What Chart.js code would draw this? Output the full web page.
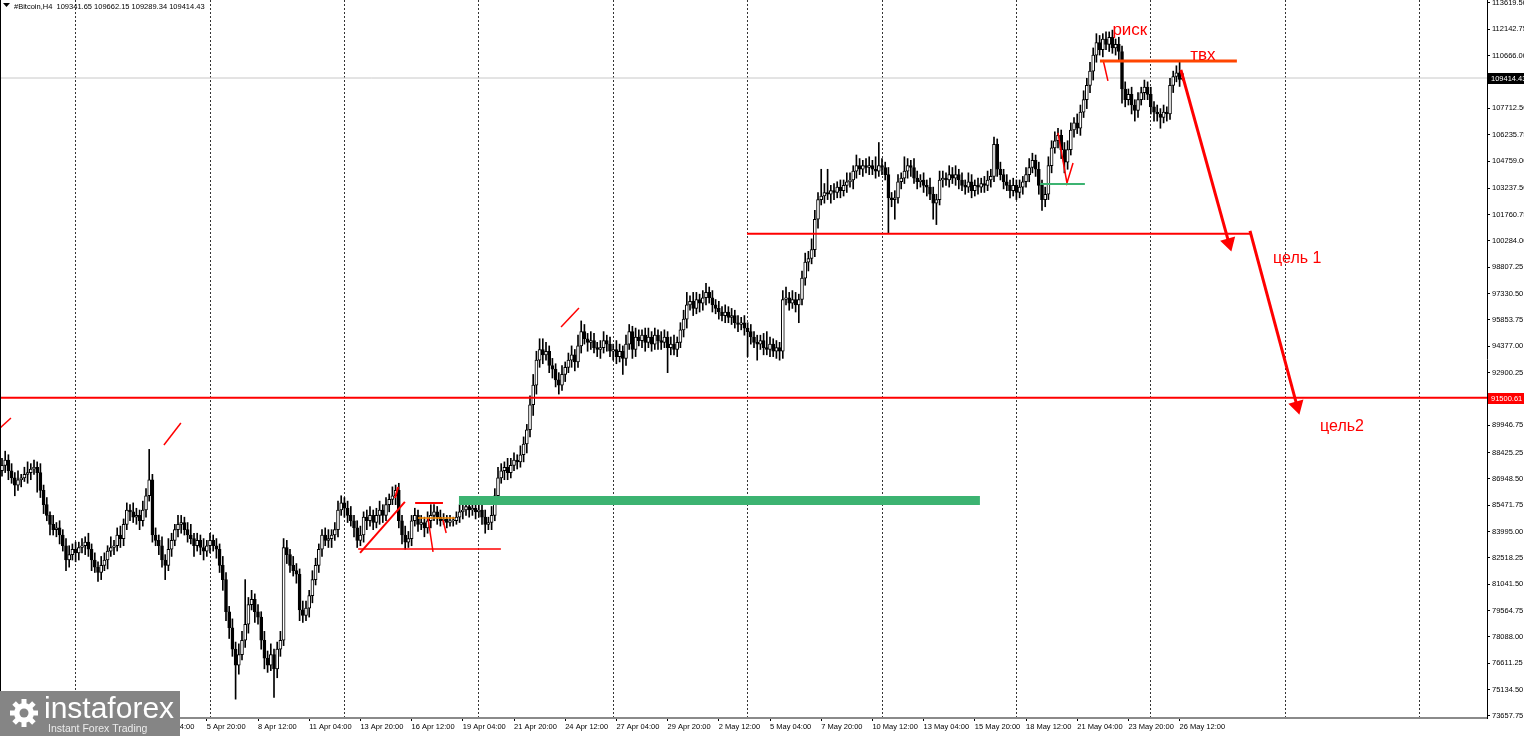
<!DOCTYPE html>
<html lang="ru">
<head>
    <meta charset="UTF-8">
    <title>#Bitcoin,H4</title>
    <script src="https://cdn.jsdelivr.net/npm/chart.js"></script>
    <style>
        html, body { margin: 0; padding: 0; background: #fff; overflow: hidden; }
        canvas { display: block; }
    </style>
</head>
<body>
    <canvas id="chart" width="1524" height="736"></canvas>

    <script>
        // H4 candles, prices in thousands of USD, open = previous close
        const firstOpen = 87.4;
        const closes = [
            87.7,88.0,87.4,87.0,86.6,86.9,87.0,87.2,87.3,87.5,87.6,87.3,86.3,85.5,84.9,84.4,84.1,84.2,83.8,83.2,82.4,82.7,83.0,82.8,
            83.1,83.2,83.4,83.0,82.4,82.0,81.7,82.1,82.4,82.9,83.1,83.2,83.8,83.6,84.4,85.2,85.1,84.8,84.9,84.6,85.2,86.0,86.9,
            83.8,83.5,83.2,82.4,82.1,83.0,83.5,84.1,84.4,84.5,84.1,83.8,83.6,83.2,83.5,83.1,82.9,83.2,83.5,83.2,83.0,82.1,81.3,
            79.5,78.6,77.4,76.5,77.1,77.9,78.8,79.9,80.2,79.5,79.2,77.9,76.9,76.5,77.1,76.3,77.4,77.9,83.1,82.7,82.1,81.8,81.6,79.6,79.3,79.7,80.4,81.3,82.1,83.0,
            83.8,83.5,83.6,83.8,84.1,85.2,85.6,85.3,84.9,84.6,84.2,83.5,83.8,84.8,84.6,84.9,84.5,84.9,85.2,84.9,85.5,85.8,86.0,86.3,84.6,83.8,83.4,83.6,84.6,84.9,
            84.4,84.5,84.2,84.6,84.9,85.1,84.8,84.6,84.7,84.5,84.6,84.6,84.8,85.1,85.2,85.4,85.2,85.3,85.1,85.2,84.8,84.4,84.5,84.9,86.0,87.0,87.4,87.6,87.3,87.7,
            88.0,87.9,88.3,88.9,89.7,91.1,92.2,93.6,94.2,93.9,94.1,93.3,93.1,92.5,92.2,92.8,93.2,93.6,93.9,93.5,94.4,95.2,94.8,94.6,94.7,94.3,94.2,94.3,94.7,94.5,
            94.1,94.2,93.8,94.1,93.7,94.5,95.2,94.2,94.9,94.7,95.0,94.6,94.9,94.5,95.0,94.7,94.6,94.9,94.3,94.5,94.2,94.6,95.3,95.9,96.7,96.9,96.5,97.0,96.8,97.1,
            97.4,97.1,96.7,96.5,96.3,96.1,96.3,96.0,96.1,95.7,95.6,95.7,95.4,95.2,94.9,94.6,94.5,94.7,94.3,94.2,94.5,94.1,94.3,94.1,97.0,97.1,96.8,97.0,96.7,97.0,
            98.2,99.1,99.3,99.8,101.5,102.6,102.8,103.0,102.9,103.1,103.0,103.3,103.1,103.4,103.6,103.7,104.2,104.5,104.3,104.5,104.4,104.5,104.3,104.2,104.5,104.4,104.0,102.7,102.6,102.7,
            103.6,103.8,104.2,104.5,104.4,103.8,103.6,103.7,103.4,103.3,102.9,102.4,102.6,103.7,103.8,103.7,104.0,103.8,104.0,103.7,103.4,103.3,103.6,103.1,103.4,103.3,103.5,103.4,103.7,103.9,
            105.7,104.3,104.0,103.6,103.4,103.1,103.4,103.0,103.3,103.6,104.0,104.4,104.8,104.3,103.4,102.6,102.9,104.5,105.5,105.9,106.2,105.4,104.7,105.4,106.5,106.9,106.6,107.5,108.2,109.0,
            109.8,110.7,111.4,111.0,111.6,111.3,111.7,111.1,111.3,110.9,108.8,108.2,108.5,107.9,107.6,108.2,108.6,108.9,108.5,107.8,107.5,107.4,107.2,107.5,107.4,109.0,109.5,109.7,109.342,109.414
        ];
        const upWick = [
            .4,.5,.3,.4,.3,.5,.2,.4,.6,.3,.4,.3,.5,.3,.4,.2,.5,.3,.4,.3,.4,.5,.3,.4,
            .3,.4,.3,.5,.3,.4,.3,.5,.4,.3,.6,.3,.4,.5,.3,.4,.3,.5,.4,.3,.5,.4,1.7,
            .3,.4,.3,.5,.3,.6,.4,.3,.5,.4,.3,.4,.6,.3,.4,.3,.5,.3,.4,.3,.4,.3,.5,
            .4,.3,.5,.4,.6,.5,2.5,.4,.5,.3,.4,.3,.5,.4,.6,.3,.4,.5,.5,.4,.3,.5,.4,.3,.5,.4,.3,.5,.4,.3,
            .3,.4,.5,.3,.4,.5,.4,.3,.4,.5,.3,.4,.5,.3,.4,.5,.3,.4,.5,.3,.4,.3,.5,.3,.4,.3,.5,.4,.3,.4,
            .3,.4,.3,.5,.6,.4,.3,.4,.3,.2,.3,.2,.3,.4,.5,.3,.4,.3,.4,.3,.3,.4,.3,.5,.4,.6,.4,.3,.5,.4,
            .4,.3,.5,.4,.3,.5,.6,.5,.6,.6,.5,.3,.4,.3,.4,.5,.3,.4,.5,.3,.6,.6,.4,.3,.5,.4,.3,.4,.5,.3,
            .4,.3,.5,.4,.3,.5,.4,.3,.5,.4,.3,.4,.5,.3,.4,.3,.5,.4,.3,.4,.5,.3,.4,.5,.7,.3,.5,.4,.3,.4,
            .5,.3,.4,.3,.4,.3,.4,.3,.4,.3,.4,.3,.4,.3,.4,.3,.4,.3,.4,.9,.4,.3,.4,.3,.5,.6,.3,.5,.4,.3,
            .4,.5,.4,.6,.5,.4,1.5,.5,1.3,.3,.4,.3,.4,.3,.5,.4,.3,.6,.4,.3,.4,.5,.3,.7,1.3,.4,.3,.4,.3,.4,
            .4,.3,.8,.4,.3,.5,.4,.3,.4,.3,.5,.4,.3,.5,.4,.3,.5,.4,.5,.3,.4,.3,.5,.4,.3,.4,.3,.4,.5,.4,
            .4,.3,.4,.3,.4,.3,.4,.3,.4,.3,.4,.5,.4,.3,.4,.3,.4,.5,.4,.5,.4,.3,.4,.5,.4,.3,.5,.4,.5,.4,
            .5,.4,.5,.4,.3,.4,.3,.4,.3,.4,.3,.4,.3,.4,.3,.4,.3,.4,.3,.4,.3,.4,.3,.4,.3,.4,.3,.4,.6,.248
        ];
        const downWick = [
            .3,.4,.5,.3,.6,.3,.4,.2,.5,.4,.3,1.1,.4,.5,.3,.6,.3,.4,.5,.3,.6,.4,.3,.5,
            .4,.3,.5,.4,.6,.3,.5,.4,.3,.5,.3,.4,.3,.5,.4,.3,.5,.3,.4,.5,.3,.4,.3,
            .4,.3,.5,.4,.8,.3,.4,.3,.4,.5,.3,.4,.3,.6,.3,.4,.5,.3,.4,.3,.5,.4,.6,
            .5,.6,.4,1.9,.5,.3,.4,.5,.3,.6,.4,.5,.6,.4,.3,1.6,.5,.4,.3,.5,.4,.3,.5,.6,.4,.3,.5,.4,.3,.4,
            .4,.3,.4,.5,.3,.4,.3,.5,.4,.3,.5,.4,.3,.4,.5,.3,.4,.3,.5,.4,.3,.4,.3,.5,.4,.5,.4,.3,.4,.3,
            .4,.3,.5,.3,.4,.3,.4,.3,.2,.3,.2,.3,.2,.3,.4,.3,.4,.3,.4,.3,.4,.5,.3,.4,.3,.4,.3,.5,.4,.3,
            .3,.4,.3,.4,.5,.4,.6,.5,.4,.5,.3,.4,.5,.4,.5,.3,.4,.3,.4,.5,.3,.4,.3,.5,.4,.3,.4,.5,.3,.4,
            .3,.5,.4,.3,.9,.4,.3,.5,.4,.3,.4,.5,.3,.4,.3,.5,.4,.3,1.4,.4,.3,.4,.3,.4,.5,.3,.4,.3,.5,.4,
            .4,.3,.4,.3,.4,.3,.4,.3,.4,.3,.4,.3,.4,1.4,.4,.3,.9,.3,.4,.3,.4,.3,.4,.5,.4,.3,.4,.3,.4,1.0,
            .3,.4,.5,.3,.4,.5,.3,.4,.3,.5,.4,.3,.4,.3,.4,.3,.5,.4,.3,.4,.3,.4,.3,.4,.3,.4,.3,2.0,.4,1.1,
            .3,.4,.3,.4,.5,.3,.4,.3,.4,.5,.3,.9,1.2,.3,.4,.3,.4,.3,.4,.5,.3,.4,.3,.4,.3,.4,.3,.4,.3,.4,
            .3,.4,.3,.4,.3,.4,.3,.4,.3,.4,.3,.4,.3,.4,.5,.6,.4,.3,.4,.3,.4,.5,.6,.4,.3,.4,.3,.4,.3,.5,
            .4,.5,.4,.3,.4,.3,.4,.3,.4,.5,.8,.4,.3,.5,.6,.4,.3,.4,.3,.4,.5,.4,.6,.3,.4,.3,.4,.3,.4,.052
        ];

        // time axis labels every 16 bars, weekly grid
        const labelBars = [0,16,32,48,64,80,96,112,128,144,160,176,192,208,224,240,256,272,288,304,320,336,352,368];
        const timeLabels = ["26 Mar 2025","28 Mar 20:00","31 Mar 12:00","3 Apr 04:00","5 Apr 20:00","8 Apr 12:00",
            "11 Apr 04:00","13 Apr 20:00","16 Apr 12:00","19 Apr 04:00","21 Apr 20:00","24 Apr 12:00",
            "27 Apr 04:00","29 Apr 20:00","2 May 12:00","5 May 04:00","7 May 20:00","10 May 12:00",
            "13 May 04:00","15 May 20:00","18 May 12:00","21 May 04:00","23 May 20:00","26 May 12:00"];
        const weekBars = [23,65,107,149,191,233,275,317,359,401,443];
        const priceTicks = [113619.50,112142.75,110666.00,109189.25,107712.50,106235.75,104759.00,103237.50,
            101760.75,100284.00,98807.25,97330.50,95853.75,94377.00,92900.25,89946.75,88425.25,86948.50,
            85471.75,83995.00,82518.25,81041.50,79564.75,78088.00,76611.25,75134.50,73657.75];

        const bidPrice = 109414.43;
        const levelPrice = 91500.61;
        const titleText = "#Bitcoin,H4  109341.65 109662.15 109289.34 109414.43";

        // hand drawn objects: [bar, price] points
        const drawings = [
            { pts: [[-0.7, bidPrice], [465, bidPrice]], color: "#c8c8c8", width: 1, under: true },
            { pts: [[-0.7, levelPrice], [465, levelPrice]], color: "#ff0000", width: 2 },
            { pts: [[232.8, 100680], [390.6, 100680]], color: "#ff0000", width: 2 },
            { pts: [[343.1, 110370], [385.9, 110370]], color: "#ff4500", width: 3 },
            { pts: [[142.8, 85736], [305.6, 85736]], color: "#3cb371", width: 9 },
            { pts: [[324.4, 103476], [338.4, 103476]], color: "#3cb371", width: 2 },
            { pts: [[111.3, 83018], [155.9, 83018]], color: "#ff0000", width: 1.5 },
            { pts: [[111.9, 82794], [125.9, 85653]], color: "#ff0000", width: 2 },
            { pts: [[122.8, 85877], [123.8, 86493]], color: "#ff0000", width: 2 },
            { pts: [[129.1, 85596], [137.8, 85596]], color: "#ff0000", width: 2 },
            { pts: [[130.0, 84756], [141.6, 84756]], color: "#ff8c00", width: 1.5 },
            { pts: [[133.1, 84756], [134.7, 82850]], color: "#ff0000", width: 1.5 },
            { pts: [[137.8, 84644], [138.8, 83915]], color: "#ff0000", width: 1.5 },
            { pts: [[-0.6, 89800], [2.8, 90360]], color: "#ff0000", width: 1.5 },
            { pts: [[50.6, 88847], [55.9, 90080]], color: "#ff0000", width: 1.5 },
            { pts: [[174.7, 95461], [180.3, 96526]], color: "#ff0000", width: 1.5 },
            { pts: [[330.0, 106335], [332.8, 103532], [334.7, 104653]], color: "#ff0000", width: 1.5 },
            { pts: [[344.1, 110427], [345.6, 109250]], color: "#ff0000", width: 1.5 },
            { pts: [[368.4, 109866], [383.4, 100170]], color: "#ff0000", width: 3, arrow: 164 },
            { pts: [[390.0, 100842], [404.7, 91033]], color: "#ff0000", width: 3, arrow: 165 }
        ];
        const notes = [
            { text: "риск", bar: 347.0, price: 111828, size: 17 },
            { text: "твх", bar: 371.3, price: 110427, size: 17 },
            { text: "цель 1", bar: 397.2, price: 99048, size: 16 },
            { text: "цель2", bar: 411.9, price: 89632, size: 16 }
        ];

        const candles = closes.map((c, i) => {
            const o = i === 0 ? firstOpen : closes[i - 1];
            return {
                i: i,
                o: o * 1000,
                c: c * 1000,
                h: (Math.max(o, c) + (upWick[i] || 0)) * 1000,
                l: (Math.min(o, c) - (downWick[i] || 0)) * 1000
            };
        });

        const FONT = "Liberation Sans";
        const tickFont = { family: FONT, size: 7.5 };

        const drawingSets = drawings.map(d => ({
            type: "line",
            data: d.pts.map(p => ({ x: p[0], y: p[1] })),
            borderColor: d.color,
            borderWidth: d.width,
            pointRadius: d.pts.map((p, j) => (d.arrow && j === d.pts.length - 1) ? 6 : 0),
            pointStyle: "triangle",
            pointRotation: d.arrow || 0,
            pointBackgroundColor: d.color,
            pointBorderColor: d.color,
            fill: false,
            tension: 0,
            order: d.under ? 5 : 0,
            xAxisID: "x",
            yAxisID: "y"
        }));

        const decor = {
            id: "decor",
            afterDraw(chart) {
                const { ctx, chartArea } = chart;
                const x = chart.scales.x, y = chart.scales.y;
                ctx.save();
                ctx.fillStyle = "#000";
                ctx.fillRect(0, 0, 1, chartArea.bottom);

                // header
                ctx.beginPath();
                ctx.moveTo(3, 3); ctx.lineTo(10, 3); ctx.lineTo(6.5, 7); ctx.closePath();
                ctx.fill();
                ctx.font = "7.5px '" + FONT + "'";
                ctx.textBaseline = "alphabetic";
                ctx.fillText(titleText, 14, 9);

                // price tags on the axis
                [[bidPrice, "#000000"], [levelPrice, "#ff0000"]].forEach(t => {
                    const py = Math.round(y.getPixelForValue(t[0]));
                    ctx.fillStyle = t[1];
                    ctx.fillRect(chartArea.right + 1, py - 5, 40, 11);
                    ctx.fillStyle = "#fff";
                    ctx.textBaseline = "middle";
                    ctx.fillText(t[0].toFixed(2), chartArea.right + 4, py + 0.5);
                });

                // text notes
                ctx.fillStyle = "#ff0000";
                ctx.textBaseline = "alphabetic";
                notes.forEach(n => {
                    ctx.font = n.size + "px '" + FONT + "'";
                    ctx.fillText(n.text, x.getPixelForValue(n.bar), y.getPixelForValue(n.price));
                });

                // watermark
                ctx.fillStyle = "#858585";
                ctx.fillRect(0, 691, 180, 45);
                ctx.fillStyle = "#fff";
                ctx.translate(24, 713);
                for (let k = 0; k < 8; k++) {
                    ctx.rotate(Math.PI / 4);
                    ctx.fillRect(-2.5, -14, 5, 6);
                }
                ctx.beginPath(); ctx.arc(0, 0, 10, 0, Math.PI * 2); ctx.fill();
                ctx.fillStyle = "#858585";
                ctx.beginPath(); ctx.arc(0, 0, 4.5, 0, Math.PI * 2); ctx.fill();
                ctx.setTransform(1, 0, 0, 1, 0, 0);
                ctx.fillStyle = "#fff";
                ctx.font = "30px '" + FONT + "'";
                ctx.fillText("instaforex", 44, 718);
                ctx.fillStyle = "#ececec";
                ctx.font = "10.5px '" + FONT + "'";
                ctx.fillText("Instant Forex Trading", 48, 732);
                ctx.restore();
            }
        };

        new Chart(document.getElementById("chart"), {
            type: "bar",
            data: {
                datasets: [
                    ...drawingSets,
                    {
                        type: "bar",
                        data: candles.map(k => ({ x: k.i, y: [k.o, k.c] })),
                        backgroundColor: candles.map(k => k.c >= k.o ? "#ffffff" : "#000000"),
                        borderColor: "#000",
                        borderWidth: 1,
                        borderSkipped: false,
                        barThickness: 3,
                        minBarLength: 1,
                        grouped: false,
                        order: 1,
                        xAxisID: "x",
                        yAxisID: "y"
                    },
                    {
                        type: "bar",
                        data: candles.map(k => ({ x: k.i, y: [k.l, k.h] })),
                        backgroundColor: "#000",
                        barThickness: 1,
                        grouped: false,
                        order: 2,
                        xAxisID: "x",
                        yAxisID: "y"
                    }
                ]
            },
            options: {
                responsive: false,
                devicePixelRatio: 1,
                animation: false,
                events: [],
                layout: { padding: 0, autoPadding: false },
                plugins: { legend: { display: false }, tooltip: { enabled: false } },
                scales: {
                    x: {
                        type: "linear",
                        position: "bottom",
                        offset: false,
                        min: -0.625,
                        max: 464.06,
                        afterBuildTicks: s => { s.ticks = labelBars.map(v => ({ value: v })); },
                        afterFit: s => { s.height = 18; s.paddingLeft = 0; s.paddingRight = 0; },
                        ticks: {
                            align: "start",
                            autoSkip: false,
                            maxRotation: 0,
                            minRotation: 0,
                            padding: 1,
                            color: "#000",
                            font: tickFont,
                            callback: (v, i) => timeLabels[i]
                        },
                        grid: { display: true, offset: false, drawOnChartArea: false, drawTicks: true, tickLength: 3, tickColor: "#000" },
                        border: { color: "#8a8a8a", width: 2 }
                    },
                    xg: {
                        axis: "x",
                        type: "linear",
                        position: "bottom",
                        offset: false,
                        min: -0.625,
                        max: 464.06,
                        afterBuildTicks: s => { s.ticks = weekBars.map(v => ({ value: v })); },
                        afterFit: s => { s.height = 0; s.paddingLeft = 0; s.paddingRight = 0; },
                        ticks: { display: false },
                        grid: { display: true, offset: false, drawOnChartArea: true, drawTicks: false, color: "#333", lineWidth: 1 },
                        border: { display: false, dash: [2, 2] }
                    },
                    y: {
                        type: "linear",
                        position: "right",
                        min: 73543.75,
                        max: 113787.65,
                        afterBuildTicks: s => { s.ticks = priceTicks.map(v => ({ value: v })); },
                        afterFit: s => { s.width = 37; s.paddingTop = 0; s.paddingBottom = 0; },
                        ticks: {
                            autoSkip: false,
                            padding: 2,
                            color: "#000",
                            font: tickFont,
                            callback: v => v.toFixed(2)
                        },
                        grid: { display: true, drawOnChartArea: false, drawTicks: true, tickLength: 3, tickColor: "#000" },
                        border: { color: "#000", width: 1 }
                    }
                }
            },
            plugins: [decor]
        });
    </script>
</body>
</html>
